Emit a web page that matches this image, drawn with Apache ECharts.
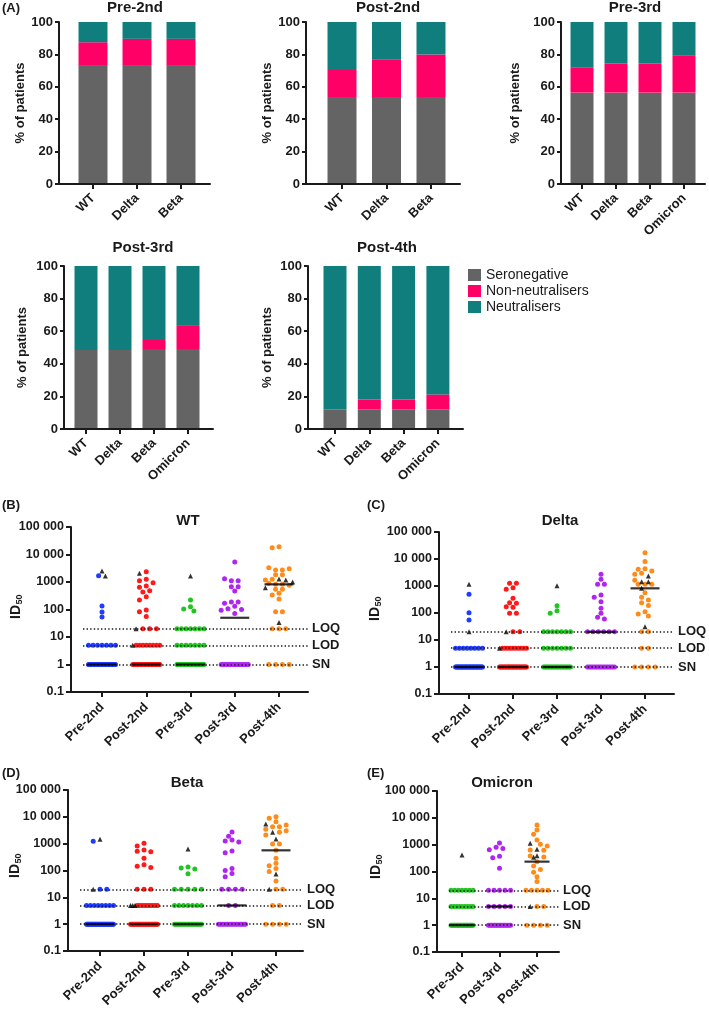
<!DOCTYPE html>
<html><head><meta charset="utf-8">
<script src="https://cdn.jsdelivr.net/npm/echarts@6.0.0/dist/echarts.min.js"></script>
<style>html,body{margin:0;padding:0;background:#fff}#c{width:709px;height:1011px}</style>
</head><body><div id="c"></div>
<script>
// ================= DATA =================
// Panel A: % of patients (stacked)
const barCats3 = ['WT','Delta','Beta'];
const barCats4 = ['WT','Delta','Beta','Omicron'];
const seroPre2 = [72.9,72.9,72.9];
const nonPre2  = [14.6,16.7,16.7];
const neuPre2  = [12.5,10.4,10.4];
const seroPost2 = [53.7,53.7,53.7];
const nonPost2  = [16.7,23.3,26.3];
const neuPost2  = [29.6,23.0,20.0];
const seroPre3 = [56.4,56.4,56.4,56.4];
const nonPre3  = [15.4,17.9,17.9,23.1];
const neuPre3  = [28.2,25.7,25.7,20.5];
const seroPost3 = [48.5,48.5,48.5,48.5];
const nonPost3  = [0,0,6.1,15.2];
const neuPost3  = [51.5,51.5,45.4,36.3];
const seroPost4 = [12.1,12.1,12.1,12.1];
const nonPost4  = [0,6.1,6.1,9.1];
const neuPost4  = [87.9,81.8,81.8,78.8];

// Panels B-E: ID50 values (dots = coloured circles, tris = black triangles)
const scTimes  = ['Pre-2nd','Post-2nd','Pre-3rd','Post-3rd','Post-4th'];
const scTimesE = ['Pre-3rd','Post-3rd','Post-4th'];
const yTickVals = [0.1,1,10,100,1000,10000,100000];
const refValues = [20,5,1];
const refNames  = ['LOQ','LOD','SN'];

const wtDots = [
  [1700,135,81,53, 5,5,5,5,5,5,5, 1,1,1,1,1,1,1,1,1,1,1,1,1,1,1,1,1,1,1,1,1,1,1,1,1,1,1,1,1,1,1,1,1,1,1],
  [2380,1250,1118,945,716,640,484,433,293,221,96,83,56, 20,20,20, 5,5,5,5,5,5,5,5, 1,1,1,1,1,1,1,1,1,1,1,1,1,1,1,1,1,1,1,1,1,1,1,1,1,1,1,1,1],
  [221,127,104,88, 20,20,20,20,20,20,20, 5,5,5,5,5,5,5, 1,1,1,1,1,1,1,1,1,1,1,1,1,1,1,1,1,1,1,1,1,1],
  [5340,1322,1118,1118,677,677,471,187,187,168,130,107,99,93,71, 1,1,1,1,1,1,1,1,1,1,1,1,1,1,1,1],
  [19300,17700,3320,3050,2730,2730,1850,1850,1250,1180,900,822,822,760,541,541,387,337,241,83,83, 20,20,20, 1,1,1,1]
];
const wtTris = [[2500,1650],[2070,20,5],[1660],[],[1285,1183,1000,622,34]];
const wtMed = [1,1,1,50,822];

const deltaDots = [
  [491,103,55, 5,5,5,5,5,5,5,5, 1,1,1,1,1,1,1,1,1,1,1,1,1,1,1,1,1,1,1,1,1,1,1,1,1,1,1,1,1,1,1,1,1,1,1],
  [1256,1256,867,753,349,241,228,172,162,97,97, 20,20, 5,5,5,5,5,5,5,5,5,5, 1,1,1,1,1,1,1,1,1,1,1,1,1,1,1,1,1,1,1,1,1,1,1,1,1,1,1,1,1],
  [187,122,97, 20,20,20,20,20,20,20, 5,5,5,5,5,5,5, 1,1,1,1,1,1,1,1,1,1,1,1,1,1,1,1,1,1,1,1,1,1],
  [2704,1766,1153,1153,464,380,263,149,97,69,60, 20,20,20,20,20,20, 1,1,1,1,1,1,1,1,1,1,1,1,1,1,1,1],
  [17170,8000,4380,4140,3590,2946,2704,1620,1153,1153,1153,566,380,303,241,190,112,92,77, 20,20, 5,5, 1,1,1,1]
];
const deltaTris = [[1150,20],[20,5],[1028],[],[2344,1450,1450,820,31]];
const deltaMed = [1,1,1,20,820];

const betaDots = [
  [1223, 20,20, 5,5,5,5,5,5,5,5, 1,1,1,1,1,1,1,1,1,1,1,1,1,1,1,1,1,1,1,1,1,1,1,1,1,1,1,1,1,1,1,1,1,1,1],
  [1030,819,581,517,504,284,165,143,128, 20,20,20, 5,5,5,5,5,5,5,5,5,5, 1,1,1,1,1,1,1,1,1,1,1,1,1,1,1,1,1,1,1,1,1,1,1,1,1,1,1,1,1],
  [135,124,114,76, 20,20,20,20,20, 5,5,5,5,5,5,5, 1,1,1,1,1,1,1,1,1,1,1,1,1,1,1,1,1,1,1,1,1,1],
  [2725,1879,1372,1260,1154,533,462,120,99,78,59, 20,20,20,20, 5,5, 1,1,1,1,1,1,1,1,1,1,1,1,1,1,1,1],
  [10150,8800,6620,4970,4300,4300,3425,3055,2650,2110,973,973,565,284,185,150,120,91,41, 20,20, 5,5, 1,1,1,1]
];
const betaTris = [[1452,20],[5,5,5],[634],[],[5410,2650,1494,74,20]];
const betaMed = [1,1,1,5,565];

const omiDots = [
  [20,20,20,20,20,20,20, 5,5,5,5,5,5,5,5,5, 1,1,1,1,1,1,1,1,1,1,1,1,1,1,1,1,1,1,1,1,1,1],
  [1155,796,721,652,368,328,131, 20,20,20,20,20, 5,5,5,5,5, 1,1,1,1,1,1,1,1,1,1,1,1,1,1,1,1],
  [5410,3520,2430,1494,1030,900,630,616,380,347,233,160,120,93,64,42, 20,20,20,20,20, 5,5, 1,1,1,1]
];
const omiTris = [[412],[],[1122,670,390,337,5]];
const omiMed = [1,5,233];

// ================= STYLE / LAYOUT =================
const FONT = '"Liberation Sans", Arial, Helvetica, sans-serif';
const INK = '#1a1a1a';
const C_SERO = '#646464', C_NON = '#ff0066', C_NEU = '#117e7e';
const groupColor = {'Pre-2nd':'#1f3cff','Post-2nd':'#ff1a1a','Pre-3rd':'#22c422','Post-3rd':'#b026f0','Post-4th':'#ff8c1a'};

const barPanels = [
  {title:'Pre-2nd', cats:barCats3, sero:seroPre2, non:nonPre2, neu:neuPre2, L:{ax:59,t0:93,d:44,end:210,top:22,bot:184,bw:29,gap:31,tx:135,ty:8}},
  {title:'Post-2nd', cats:barCats3, sero:seroPost2, non:nonPost2, neu:neuPost2, L:{ax:306,t0:342,d:44.5,end:460,top:22,bot:184,bw:29,gap:32,tx:388,ty:8}},
  {title:'Pre-3rd', cats:barCats4, sero:seroPre3, non:nonPre3, neu:neuPre3, L:{ax:561,t0:582,d:34,end:705,top:22,bot:184,bw:23,gap:39,tx:635,ty:8}},
  {title:'Post-3rd', cats:barCats4, sero:seroPost3, non:nonPost3, neu:neuPost3, L:{ax:64,t0:86,d:34,end:213,top:266,bot:429,bw:23,gap:35,tx:143,ty:248}},
  {title:'Post-4th', cats:barCats4, sero:seroPost4, non:nonPost4, neu:neuPost4, L:{ax:308,t0:335,d:34.3,end:463,top:266,bot:429,bw:23,gap:34,tx:387,ty:248}}
];
const scPanels = [
  {title:'WT', groups:scTimes, dots:wtDots, tris:wtTris, med:wtMed, L:{ax:71,t0:102,d:44.25,end:308,top:527,bot:692,tx:188,ty:521,idx:16,idy:607,maxW:27,medW:29}},
  {title:'Delta', groups:scTimes, dots:deltaDots, tris:deltaTris, med:deltaMed, L:{ax:439,t0:469,d:44,end:674,top:532,bot:694,tx:560,ty:521,idx:375,idy:609,maxW:27,medW:29}},
  {title:'Beta', groups:scTimes, dots:betaDots, tris:betaTris, med:betaMed, L:{ax:68,t0:100,d:44,end:303,top:790,bot:951,tx:187,ty:783,idx:15,idy:866,maxW:27,medW:29}},
  {title:'Omicron', groups:scTimesE, dots:omiDots, tris:omiTris, med:omiMed, L:{ax:437,t0:462,d:37.5,end:559,top:791,bot:952,tx:502,ty:783,idx:376,idy:867,maxW:22,medW:25}}
];
const panelLetters = [['(A)',2,8],['(B)',2,505],['(C)',367,505],['(D)',2,773],['(E)',367,773]];

function txt(text, x, y, size, align, weight) {
  return {type:'text', x:x, y:y, silent:true, style:{text:text, fill:INK,
    font:(weight||'bold')+' '+size+'px '+FONT, align:align||'center', verticalAlign:'middle',
    textAlign:align||'center', textVerticalAlign:'middle'}};
}
function idLabel(cx, cy) {
  return {type:'group', x:cx, y:cy, rotation:Math.PI/2, silent:true, children:[
    {type:'text', x:-12, y:0, style:{text:'ID', fill:INK, font:'bold 14px '+FONT, align:'left', verticalAlign:'middle', textAlign:'left', textVerticalAlign:'middle'}},
    {type:'text', x:2.5, y:4, style:{text:'50', fill:INK, font:'bold 9px '+FONT, align:'left', verticalAlign:'middle', textAlign:'left', textVerticalAlign:'middle'}}
  ]};
}
const lbl = (size)=>({fontSize:size, fontWeight:'bold', fontFamily:FONT, color:INK});
const axLine = {show:true, onZero:false, lineStyle:{color:INK, width:2}};

// GraphPad-like dot arrangement in pixel space
function swarm(dots, tris, pxDec, step, diam, maxW) {
  const items = dots.map(v=>({v:v,t:0})).concat(tris.map(v=>({v:v,t:1})));
  items.forEach(it=>{ it.py = -Math.log10(it.v)*pxDec; });
  const byVal = new Map();
  items.forEach(it=>{ if(!byVal.has(it.v)) byVal.set(it.v, []); byVal.get(it.v).push(it); });
  const placed = [], singles = [];
  byVal.forEach(arr=>{
    if (arr.length >= 2) {
      arr.sort((a,b)=>b.t-a.t);
      const n = arr.length, sp = Math.min(step*2, maxW/(n-1));
      arr.forEach((it,k)=>{ it.px = (k-(n-1)/2)*sp; placed.push(it); });
    } else singles.push(arr[0]);
  });
  singles.sort((a,b)=>b.v-a.v);
  singles.forEach(it=>{
    let best = 0, bestScore = -1;
    for (let k=0; k<=14; k++) {
      const off = (k%2===1 ? -1 : 1)*Math.ceil(k/2)*step;
      if (Math.abs(off) > maxW/2+0.1) break;
      let minD = Infinity;
      placed.forEach(p=>{ const d = Math.hypot(p.px-off, p.py-it.py); if (d<minD) minD = d; });
      if (minD >= diam) { best = off; break; }
      if (minD > bestScore) { bestScore = minD; best = off; }
    }
    it.px = best; placed.push(it);
  });
  return items;
}

const option = {animation:false, backgroundColor:'#fff', grid:[], xAxis:[], yAxis:[], series:[], graphic:[],
  legend:{data:['Seronegative','Non-neutralisers','Neutralisers'], orient:'vertical', left:463, top:263,
    itemWidth:13, itemHeight:12, itemGap:2, icon:'rect', selectedMode:false,
    textStyle:{fontSize:14, fontFamily:FONT, color:INK}}};

let gi = 0;
barPanels.forEach(p=>{
  const L = p.L, n = p.cats.length, ticks = p.cats.map((c,i)=>i);
  // axis frame grid (visible axes)
  option.grid.push({left:L.ax, top:L.top, width:L.end-L.ax, height:L.bot-L.top, containLabel:false, outerBoundsMode:'none'});
  option.xAxis.push({gridIndex:gi, type:'value', min:(L.ax-L.t0)/L.d, max:(L.end-L.t0)/L.d, z:3,
    axisLine:axLine, axisTick:{show:true, customValues:ticks, length:5, lineStyle:{color:INK,width:2}},
    axisLabel:Object.assign({customValues:ticks, rotate:45, margin:12, formatter:v=>p.cats[Math.round(v)]}, lbl(13)),
    splitLine:{show:false}});
  option.yAxis.push({gridIndex:gi, type:'value', min:0, max:100, interval:20, name:'% of patients', z:3,
    nameLocation:'middle', nameGap:L.gap, nameRotate:90, nameTextStyle:lbl(13),
    axisLine:axLine, axisTick:{show:true, length:4, lineStyle:{color:INK,width:2}},
    axisLabel:Object.assign({margin:6}, lbl(13)), splitLine:{show:false}});
  gi++;
  // bar grid (hidden category axis, bars centred on the tick positions)
  option.grid.push({left:L.t0-L.d/2, top:L.top, width:n*L.d, height:L.bot-L.top, containLabel:false, outerBoundsMode:'none'});
  option.xAxis.push({gridIndex:gi, type:'category', data:p.cats, show:false});
  option.yAxis.push({gridIndex:gi, type:'value', min:0, max:100, show:false});
  [['Seronegative',p.sero,C_SERO],['Non-neutralisers',p.non,C_NON],['Neutralisers',p.neu,C_NEU]].forEach(s=>{
    option.series.push({type:'bar', name:s[0], xAxisIndex:gi, yAxisIndex:gi, stack:'st'+gi, barWidth:L.bw, z:1,
      itemStyle:{color:s[2]}, data:s[1]});
  });
  option.graphic.push(txt(p.title, L.tx, L.ty, 15));
  gi++;
});

function fmtTick(v) {
  const s = String(Math.round(v*10)/10);
  return v >= 10000 ? s.replace(/(\d)(?=(\d{3})+$)/g, '$1 ') : s;
}

scPanels.forEach(p=>{
  const L = p.L, ticks = p.groups.map((c,i)=>i);
  const xmin = (L.ax-L.t0)/L.d, xmax = (L.end-L.t0)/L.d;
  const pxDec = (L.bot-L.top)/6;
  option.grid.push({left:L.ax, top:L.top, width:L.end-L.ax, height:L.bot-L.top, containLabel:false, outerBoundsMode:'none'});
  option.xAxis.push({gridIndex:gi, type:'value', min:xmin, max:xmax,
    axisLine:axLine, axisTick:{show:true, customValues:ticks, length:5, lineStyle:{color:INK,width:2}},
    axisLabel:Object.assign({customValues:ticks, rotate:45, margin:13, formatter:v=>p.groups[Math.round(v)]}, lbl(13)),
    splitLine:{show:false}});
  option.yAxis.push({gridIndex:gi, type:'log', logBase:10, min:yTickVals[0], max:yTickVals[yTickVals.length-1], splitNumber:6,
    axisLine:axLine, axisTick:{show:true, length:5, lineStyle:{color:INK,width:2}},
    minorTick:{show:false}, axisLabel:Object.assign({margin:7, formatter:fmtTick}, lbl(12.5)), splitLine:{show:false}});
  const triData = [];
  p.groups.forEach((g,i)=>{
    const items = swarm(p.dots[i], p.tris[i], pxDec, 3.4, 4.8, L.maxW);
    const circ = items.filter(it=>it.t===0).map(it=>[i+it.px/L.d, it.v]);
    items.filter(it=>it.t===1).forEach(it=>triData.push([i+it.px/L.d, it.v]));
    option.series.push({type:'scatter', xAxisIndex:gi, yAxisIndex:gi, symbol:'circle', symbolSize:5, z:3,
      itemStyle:{color:groupColor[g], opacity:1}, data:circ, silent:true});
  });
  option.series.push({type:'scatter', xAxisIndex:gi, yAxisIndex:gi, symbol:'triangle', symbolSize:5, z:4,
    itemStyle:{color:'#000'}, data:triData, silent:true});
  const xs = xmin + 12/L.d;
  option.series.push({type:'scatter', xAxisIndex:gi, yAxisIndex:gi, symbol:'rect', symbolSize:[L.medW,2.2], z:5,
    itemStyle:{color:'#000'}, data:p.med.map((m,i)=>[i,m]), silent:true,
    markLine:{silent:true, symbol:['none','none'], animation:false,
      lineStyle:{color:INK, width:1.6, type:[1.4,2.2]},
      label:Object.assign({show:true, position:'end', distance:4, formatter:'{b}'}, lbl(13)),
      data:refValues.map((v,k)=>[{coord:[xs,v], name:refNames[k]},{coord:[xmax,v]}])}});
  option.graphic.push(txt(p.title, L.tx, L.ty, 15));
  option.graphic.push(idLabel(L.idx, L.idy));
  gi++;
});
panelLetters.forEach(a=>option.graphic.push(txt(a[0], a[1], a[2], 13, 'left')));

const chart = echarts.init(document.getElementById('c'), null, {renderer:'canvas'});
chart.setOption(option);
</script></body></html>
